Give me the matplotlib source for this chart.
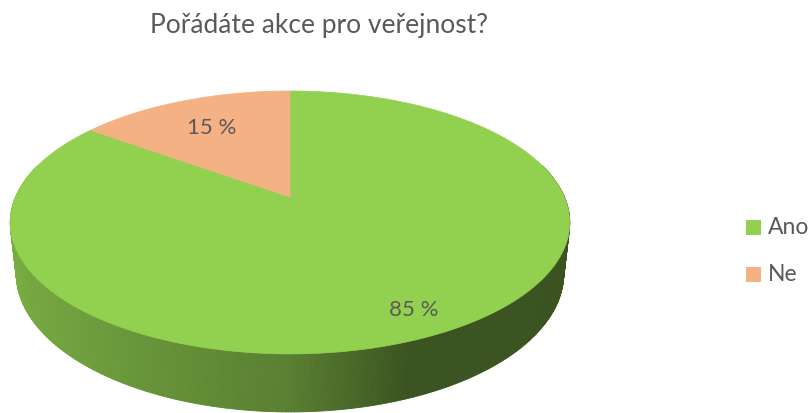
import numpy as np
import matplotlib
matplotlib.use("Agg")
import matplotlib.pyplot as plt
from matplotlib.patches import Polygon, Rectangle

# ---- data ----
title = "Pořádáte akce pro veřejnost?"
categories = ["Ano", "Ne"]
values = [85, 15]
colors = ["#92D050", "#F4B183"]

# ---- projection (3D pie) ----
CX, CY = 290.0, 198.0
F, D = 1257.0, 4.58
SIN, COS = 0.461, 0.887
H = 0.211
TXT = "#595959"
FONT = ["Lato", "DejaVu Sans"]
WEIGHT = "normal"

# side shading (as a function of cos(theta))
SHADE_C = [-1.0, -0.35, 0.0, 0.36, 1.0]
SHADE_F = [0.84, 0.69, 0.61, 0.40, 0.40]


def proj(x, y, z):
    depth = D + y * COS - z * SIN
    return CX + F * x / depth, CY - F * (y * SIN + z * COS) / depth


def hex2rgb(h):
    h = h.lstrip("#")
    return np.array([int(h[i:i + 2], 16) for i in (0, 2, 4)]) / 255.0


fig = plt.figure(figsize=(8.1, 4.14), dpi=100)
ax = fig.add_axes([0, 0, 1, 1])
ax.set_xlim(0, 810)
ax.set_ylim(414, 0)
ax.axis("off")

total = float(sum(values))
start = 90.0
ranges = []
a = start
for v in values:
    span = 360.0 * v / total
    ranges.append((a - span, a))  # clockwise
    a -= span

# side (front part)
front = (-195.0, 15.0)
for (lo, hi), col in zip(ranges, colors):
    base = hex2rgb(col)
    for shift in (-360.0, 0.0, 360.0):
        l = max(lo + shift, front[0])
        u = min(hi + shift, front[1])
        if u <= l:
            continue
        th = np.radians(np.linspace(l, u, int((u - l) * 2) + 2))
        for t1, t2 in zip(th[:-1], th[1:]):
            tm = 0.5 * (t1 + t2)
            fac = np.interp(np.cos(tm), SHADE_C, SHADE_F)
            c = np.clip(base * fac, 0, 1)
            pts = [proj(np.cos(t1), np.sin(t1), 0), proj(np.cos(t2), np.sin(t2), 0),
                   proj(np.cos(t2), np.sin(t2), -H), proj(np.cos(t1), np.sin(t1), -H)]
            ax.add_patch(Polygon(pts, closed=True, facecolor=c, edgecolor=c, lw=0.6))

# top face
for (lo, hi), col in zip(ranges, colors):
    th = np.radians(np.linspace(lo, hi, 300))
    pts = [proj(0, 0, 0)] + [proj(np.cos(t), np.sin(t), 0) for t in th]
    ax.add_patch(Polygon(pts, closed=True, facecolor=col, edgecolor=col, lw=0.5))

# data labels
label_r = [0.85, 0.70]
for (lo, hi), v, r in zip(ranges, values, label_r):
    tm = np.radians(0.5 * (lo + hi))
    x, y = proj(r * np.cos(tm), r * np.sin(tm), 0)
    ax.text(x, y, f"{v} %", ha="center", va="center", fontsize=16,
            color=TXT, family=FONT, fontweight=WEIGHT)

# title
ax.text(319, 26, title, ha="center", va="center", fontsize=19, color=TXT,
        family=FONT, fontweight=WEIGHT)

# legend
for i, (cat, col) in enumerate(zip(categories, colors)):
    yy = 228 + i * 47
    ax.add_patch(Rectangle((746, yy - 7.5), 15, 15, facecolor=col, edgecolor="none"))
    ax.text(768, yy, cat, ha="left", va="center", fontsize=16.5, color=TXT,
            family=FONT, fontweight=WEIGHT)

fig.savefig("out.png", dpi=100)
